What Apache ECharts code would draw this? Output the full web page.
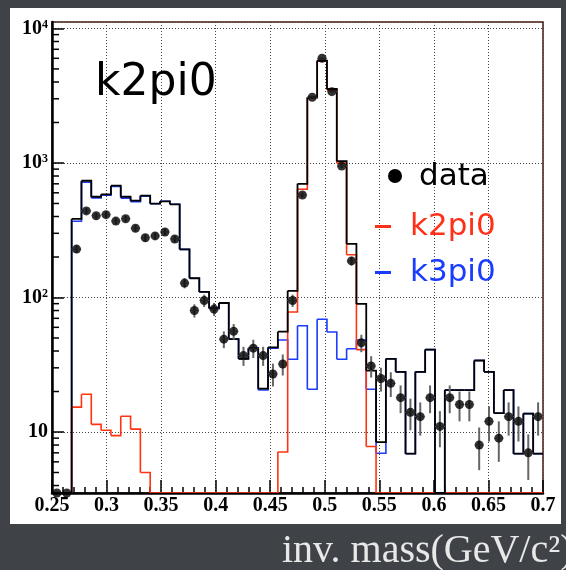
<!DOCTYPE html>
<html>
<head>
<meta charset="utf-8">
<script src="https://cdn.jsdelivr.net/npm/echarts@6.0.0/dist/echarts.min.js"></script>
<style>
  html, body { margin: 0; padding: 0; background: #3f4247; }
  #chart { width: 566px; height: 570px; }
</style>
</head>
<body>
<div id="chart"></div>
<script>
// bin edges, 50 bins of 0.009 GeV/c2
const binEdges = [0.250, 0.259, 0.268, 0.277, 0.286, 0.295, 0.304, 0.313, 0.322, 0.331,
  0.340, 0.349, 0.358, 0.367, 0.376, 0.385, 0.394, 0.403, 0.412, 0.421,
  0.430, 0.439, 0.448, 0.457, 0.466, 0.475, 0.484, 0.493, 0.502, 0.511,
  0.520, 0.529, 0.538, 0.547, 0.556, 0.565, 0.574, 0.583, 0.592, 0.601,
  0.610, 0.619, 0.628, 0.637, 0.646, 0.655, 0.664, 0.673, 0.682, 0.691, 0.700]

// MC k2pi0 (red)
const k2pi0 = [0, 0, 15.3, 19.1, 11.4, 10.3, 9.4, 13.1, 10.5, 5.0,
  0, 0, 0, 0, 0, 0, 0, 0, 0, 0,
  0, 0, 0, 7.1, 78, 638, 3057, 5700, 3493, 996,
  208, 41, 7.8, 1.5, 0, 0, 0, 0, 0, 0,
  0, 0, 0, 0, 0, 0, 0, 0, 0, 0]
// MC k3pi0 (blue)
const k3pi0 = [0, 0, 369, 719, 550, 575, 669, 548, 515, 567,
  498, 519, 493, 228, 139, 110, 83, 91, 49, 35,
  42, 20.5, 42, 48.3, 34.7, 61.7, 20.8, 68.9, 55.4, 34.7,
  41.6, 48.3, 20.8, 6.95, 35, 28, 6.9, 28, 41, 0,
  20.5, 20.5, 20.5, 34, 28, 13.8, 20.5, 6.9, 13.7, 6.9]
// sum (black)
const total = [0, 0, 384, 738, 561, 585, 678, 561, 525, 572,
  498, 519, 493, 228, 139, 110, 83, 91, 49, 35,
  42, 21, 42.6, 55.7, 112, 700, 3078, 5770, 3548, 1031,
  250, 89.5, 28.6, 8.4, 35, 28, 6.9, 28, 41, 0,
  20.5, 20.5, 20.5, 34, 28, 13.8, 20.5, 6.9, 13.7, 6.9]
// data points and errors
const dataVals = [0, 0, 229, 440, 405, 413, 370, 385, 327, 278,
  287, 307, 272, 128, 80, 95, 82, 49, 56, 37,
  42, 37, 27, 32, 95, 578, 3080, 6000, 3390, 950,
  187, 46, 31, 25, 23, 18, 14, 13, 18, 11,
  18, 16, 16, 8, 12, 9, 13, 12, 7, 13]
const dataErr = [0, 0, 15, 21, 20, 20, 19, 20, 18, 17,
  17, 18, 16, 11, 9, 10, 9, 7, 7.5, 6,
  6.5, 6, 5.2, 5.7, 10, 24, 55, 77, 58, 31,
  14, 6.8, 5.6, 5, 4.8, 4.2, 3.7, 3.6, 4.2, 3.3,
  4.2, 4, 4, 2.8, 3.5, 3, 3.6, 3.5, 2.6, 3.6]

const yMinorTicks = [4, 5, 6, 7, 8, 9, 20, 30, 40, 50, 60, 70, 80, 90,
  200, 300, 400, 500, 600, 700, 800, 900, 2000, 3000, 4000, 5000, 6000, 7000, 8000, 9000]
const supLabels = { 10: '{b|10}', 100: '{b|10}{s|2}', 1000: '{b|10}{s|3}', 10000: '{b|10}{s|4}' }

const yMin = 3.52
const yMax = 11170
const floorY = v => Math.max(v, yMin)
const center = i => (binEdges[i] + binEdges[i + 1]) / 2

const myChart = echarts.init(document.getElementById('chart'))

// histogram drawn as steps, zeros sit on the bottom of the frame like ROOT does
function histSeries(name, vals, color, width, z) {
  return {
    name: name,
    type: 'custom',
    z: z,
    clip: true,
    data: vals.map((v, i) => [binEdges[i], floorY(v)]),
    renderItem: function (params, api) {
      const i = params.dataIndex
      const y = floorY(vals[i])
      const pts = [api.coord([binEdges[i], y]), api.coord([binEdges[i + 1], y])]
      if (i + 1 < vals.length) pts.push(api.coord([binEdges[i + 1], floorY(vals[i + 1])]))
      return { type: 'polyline', shape: { points: pts }, style: { stroke: color, lineWidth: width, fill: null } }
    }
  }
}

const serif = '"Liberation Serif", "DejaVu Serif", serif'
const comic = '"DejaVu Sans", "Noto Sans", sans-serif'

const option = {
  backgroundColor: '#3f4247',
  animation: false,
  grid: { left: 52, right: 23, top: 22, bottom: 77, show: true, borderColor: '#4a1a10', borderWidth: 1.5 },
  xAxis: {
    type: 'value',
    min: 0.25,
    max: 0.7,
    interval: 0.05,
    axisLine: { show: true, onZero: false, lineStyle: { color: '#000', width: 2.5 } },
    axisTick: { show: true, inside: true, length: 13, lineStyle: { color: '#000', width: 1.5 } },
    minorTick: { show: true, splitNumber: 5, length: 6, lineStyle: { color: '#000', width: 1.5 } },
    axisLabel: { color: '#000', fontFamily: serif, fontWeight: 'bold', fontSize: 20, margin: 3 },
    splitLine: { show: true, lineStyle: { color: '#444', type: [1, 2], width: 1 } }
  },
  yAxis: {
    type: 'log',
    min: yMin,
    max: yMax,
    axisLine: { show: true, lineStyle: { color: '#000', width: 2.5 } },
    axisTick: { show: true, inside: true, length: 12, lineStyle: { color: '#000', width: 1.5 } },
    axisLabel: {
      showMinLabel: false,
      showMaxLabel: false,
      margin: 4,
      formatter: function (v) {
        return supLabels[Math.round(v)] || ''
      },
      rich: {
        b: { color: '#000', fontFamily: serif, fontWeight: 'bold', fontSize: 20 },
        s: { color: '#000', fontFamily: serif, fontWeight: 'bold', fontSize: 12, verticalAlign: 'top', padding: [0, 0, 8, 0] }
      }
    },
    splitLine: { show: true, lineStyle: { color: '#444', type: [1, 2], width: 1 } }
  },
  graphic: [
    { type: 'rect', z: -100, silent: true, shape: { x: 10, y: 8, width: 551, height: 516 }, style: { fill: '#ffffff' } },
    { type: 'text', z: 100, x: 95, y: 84, style: { text: 'k2pi0', font: '44px ' + comic, fill: '#000', verticalAlign: 'middle' } },
    { type: 'circle', z: 100, shape: { cx: 395, cy: 176, r: 7 }, style: { fill: '#000' } },
    { type: 'text', z: 100, x: 419, y: 177, style: { text: 'data', font: '31px ' + comic, fill: '#000', verticalAlign: 'middle' } },
    { type: 'rect', z: 100, shape: { x: 375, y: 225, width: 16, height: 3 }, style: { fill: '#ff3019' } },
    { type: 'text', z: 100, x: 410, y: 227, style: { text: 'k2pi0', font: '31px ' + comic, fill: '#ff3019', verticalAlign: 'middle' } },
    { type: 'rect', z: 100, shape: { x: 375, y: 271, width: 16, height: 3 }, style: { fill: '#1a3cff' } },
    { type: 'text', z: 100, x: 410, y: 273, style: { text: 'k3pi0', font: '31px ' + comic, fill: '#1a3cff', verticalAlign: 'middle' } },
    { type: 'text', z: 100, x: 282, y: 551, style: { text: 'inv. mass(GeV/c²)', font: '40px ' + serif, fill: '#e8e8e8', verticalAlign: 'middle' } }
  ],
  series: [
    histSeries('k3pi0', k3pi0, '#1a3cff', 1.6, 3),
    histSeries('k2pi0', k2pi0, '#ff3311', 1.6, 4),
    histSeries('total', total, '#000000', 1.8, 5),
    {
      name: 'err',
      type: 'custom',
      z: 6,
      clip: true,
      data: dataVals.map((v, i) => [center(i), floorY(v)]),
      renderItem: function (params, api) {
        const i = params.dataIndex
        const v = dataVals[i]
        const e = dataErr[i]
        if (!v) return null
        const c = center(i)
        const top = api.coord([c, v + e])
        const bot = api.coord([c, floorY(v - e)])
        const l = api.coord([binEdges[i], v])
        const r = api.coord([binEdges[i + 1], v])
        return {
          type: 'group',
          children: [
            { type: 'line', shape: { x1: top[0], y1: top[1], x2: bot[0], y2: bot[1] }, style: { stroke: '#666', lineWidth: 2 } },
            { type: 'line', shape: { x1: l[0], y1: l[1], x2: r[0], y2: r[1] }, style: { stroke: '#aaa', lineWidth: 1 } }
          ]
        }
      }
    },
    {
      name: 'data',
      type: 'scatter',
      z: 7,
      clip: false,
      symbol: 'circle',
      symbolSize: 9,
      itemStyle: { color: '#000' },
      data: dataVals.map((v, i) => [center(i), floorY(v)])
    },
    {
      // ROOT style minor ticks at 2..9 x 10^n
      name: 'yminor',
      type: 'custom',
      z: 8,
      clip: false,
      data: yMinorTicks.map(v => [0.25, v]),
      renderItem: function (params, api) {
        const p = api.coord([0.25, yMinorTicks[params.dataIndex]])
        return { type: 'line', shape: { x1: p[0], y1: p[1], x2: p[0] + 7, y2: p[1] }, style: { stroke: '#000', lineWidth: 1.5 } }
      }
    }
  ]
}

myChart.setOption(option)
</script>
</body>
</html>
